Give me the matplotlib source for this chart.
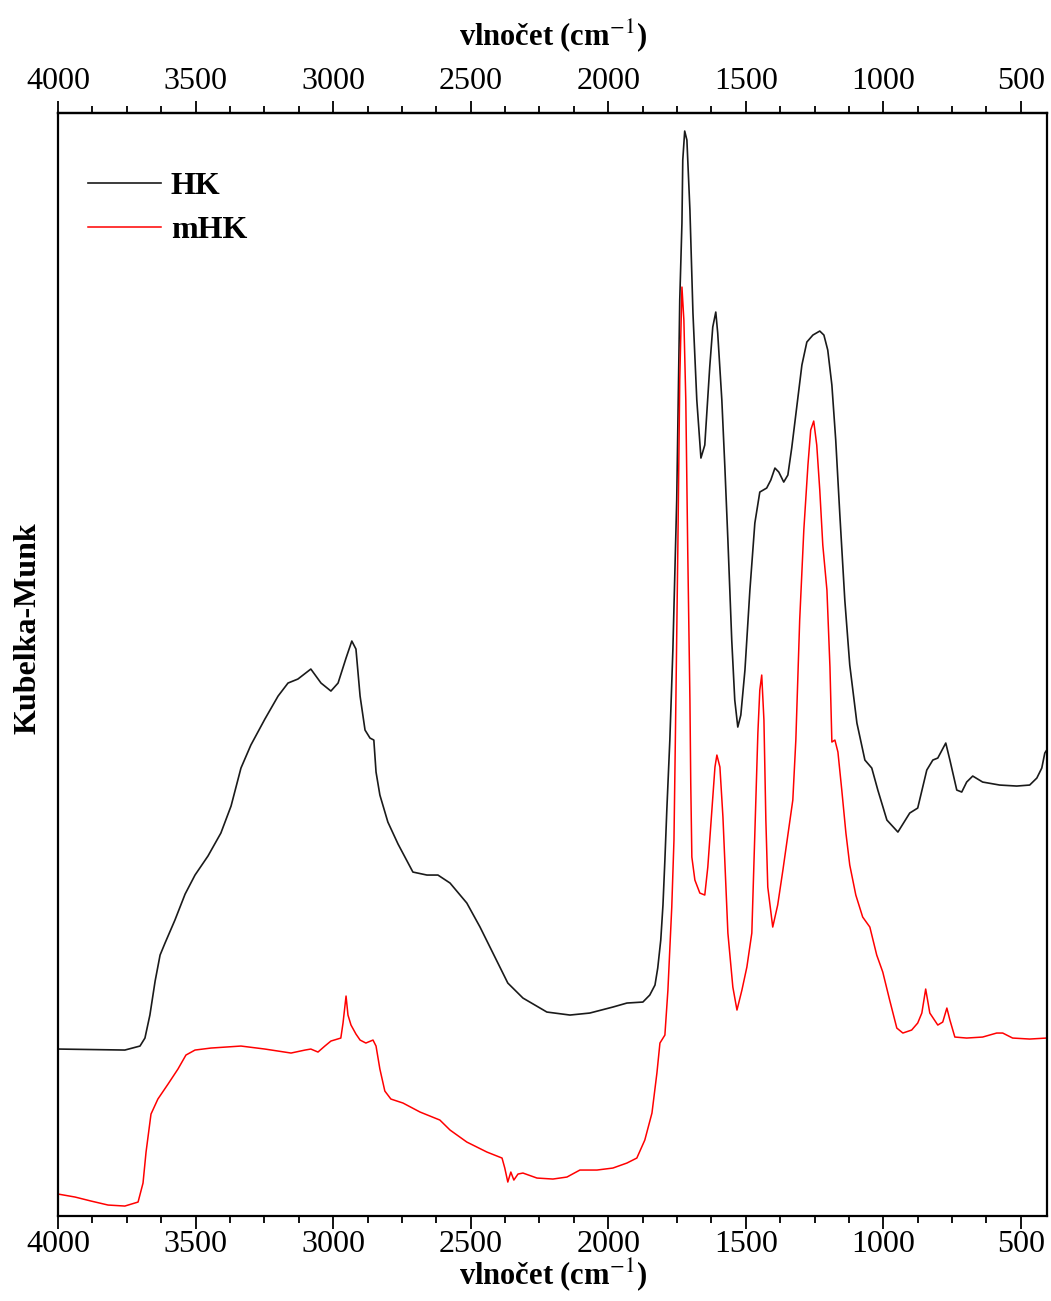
import numpy as np
import matplotlib.pyplot as plt
from matplotlib.ticker import FixedLocator

plt.rcParams['font.family'] = ['Liberation Serif', 'DejaVu Serif']
plt.rcParams['mathtext.fontset'] = 'stix'

# DRIFT spectra, Kubelka-Munk units (arbitrary)
# -------------------------------------------------------------
hk_wn = [4000, 3757, 3702, 3684, 3666, 3647, 3629, 3611, 3575, 3538,
         3502, 3455, 3408, 3371, 3335, 3299, 3248, 3200, 3164, 3128,
         3081, 3044, 3008, 2982, 2953, 2932, 2917, 2902, 2884, 2866,
         2852, 2844, 2830, 2801, 2764, 2710, 2659, 2619, 2575, 2514,
         2466, 2419, 2365, 2310, 2223, 2139, 2067, 1983, 1932, 1874,
         1849, 1830, 1820, 1809, 1801, 1794, 1787, 1776, 1765, 1751,
         1740, 1732, 1729, 1722, 1714, 1703, 1692, 1678, 1663, 1649,
         1631, 1620, 1609, 1602, 1587, 1576, 1565, 1551, 1540, 1529,
         1518, 1503, 1485, 1467, 1449, 1424, 1409, 1394, 1380, 1362,
         1347, 1333, 1314, 1296, 1278, 1256, 1231, 1216, 1202, 1187,
         1173, 1158, 1140, 1122, 1096, 1067, 1042, 1020, 987, 947,
         904, 875, 842, 820, 802, 773, 758, 733, 715, 697,
         675, 639, 577, 515, 468, 442, 424, 413, 406]
hk_km = [0.167, 0.166, 0.170, 0.178, 0.201, 0.235, 0.261, 0.273, 0.296, 0.322,
         0.341, 0.360, 0.383, 0.410, 0.448, 0.471, 0.497, 0.520, 0.533, 0.537,
         0.547, 0.533, 0.525, 0.533, 0.558, 0.575, 0.567, 0.520, 0.486, 0.478,
         0.476, 0.444, 0.421, 0.394, 0.372, 0.344, 0.341, 0.341, 0.333, 0.313,
         0.289, 0.263, 0.233, 0.218, 0.204, 0.201, 0.203, 0.209, 0.213, 0.214,
         0.221, 0.231, 0.248, 0.276, 0.311, 0.356, 0.406, 0.476, 0.566, 0.716,
         0.916, 0.993, 1.056, 1.085, 1.076, 1.006, 0.903, 0.816, 0.758, 0.771,
         0.849, 0.889, 0.904, 0.883, 0.816, 0.749, 0.676, 0.576, 0.516, 0.489,
         0.501, 0.546, 0.626, 0.693, 0.724, 0.728, 0.736, 0.748, 0.744, 0.734,
         0.741, 0.768, 0.811, 0.851, 0.874, 0.881, 0.885, 0.881, 0.866, 0.831,
         0.776, 0.701, 0.616, 0.551, 0.493, 0.456, 0.448, 0.426, 0.396, 0.384,
         0.403, 0.408, 0.446, 0.456, 0.458, 0.473, 0.456, 0.426, 0.424, 0.434,
         0.440, 0.434, 0.431, 0.430, 0.431, 0.438, 0.448, 0.463, 0.466]

mhk_wn = [4000, 3938, 3880, 3818, 3757, 3709, 3691, 3680, 3662, 3637,
          3600, 3564, 3535, 3502, 3444, 3335, 3248, 3153, 3102, 3081,
          3055, 3030, 3008, 2972, 2964, 2953, 2946, 2935, 2917, 2902,
          2881, 2855, 2844, 2830, 2812, 2790, 2746, 2684, 2612, 2575,
          2514, 2441, 2386, 2376, 2365, 2354, 2343, 2328, 2310, 2259,
          2201, 2150, 2103, 2041, 1983, 1932, 1896, 1867, 1841, 1823,
          1812, 1794, 1783, 1769, 1761, 1754, 1747, 1740, 1732, 1725,
          1718, 1711, 1703, 1700, 1696, 1685, 1667, 1649, 1638, 1623,
          1612, 1605, 1594, 1583, 1565, 1547, 1532, 1514, 1496, 1478,
          1467, 1456, 1449, 1442, 1434, 1427, 1420, 1402, 1384, 1365,
          1347, 1329, 1318, 1304, 1289, 1274, 1264, 1253, 1242, 1231,
          1220, 1205, 1194, 1187, 1176, 1165, 1151, 1136, 1122, 1100,
          1075, 1049, 1024, 1002, 977, 951, 929, 897, 875, 860,
          846, 831, 802, 784, 769, 758, 740, 697, 639, 588,
          566, 530, 468, 406]
mhk_km = [0.022, 0.019, 0.015, 0.011, 0.010, 0.014, 0.033, 0.064, 0.102, 0.117,
          0.132, 0.147, 0.161, 0.166, 0.168, 0.170, 0.167, 0.163, 0.166, 0.167,
          0.164, 0.170, 0.175, 0.178, 0.193, 0.220, 0.201, 0.191, 0.182, 0.176,
          0.173, 0.176, 0.170, 0.147, 0.125, 0.117, 0.113, 0.104, 0.096, 0.086,
          0.074, 0.064, 0.058, 0.048, 0.034, 0.044, 0.036, 0.042, 0.043, 0.038,
          0.037, 0.039, 0.046, 0.046, 0.048, 0.053, 0.058, 0.076, 0.103, 0.143,
          0.173, 0.181, 0.226, 0.309, 0.376, 0.516, 0.666, 0.836, 0.929, 0.896,
          0.816, 0.666, 0.516, 0.433, 0.359, 0.336, 0.323, 0.321, 0.349, 0.406,
          0.449, 0.461, 0.449, 0.399, 0.283, 0.229, 0.206, 0.226, 0.249, 0.283,
          0.383, 0.483, 0.526, 0.541, 0.496, 0.396, 0.329, 0.289, 0.311, 0.346,
          0.381, 0.416, 0.476, 0.596, 0.686, 0.751, 0.786, 0.795, 0.771, 0.726,
          0.671, 0.626, 0.549, 0.474, 0.476, 0.464, 0.426, 0.383, 0.351, 0.321,
          0.299, 0.289, 0.261, 0.244, 0.216, 0.188, 0.183, 0.186, 0.193, 0.203,
          0.227, 0.203, 0.191, 0.194, 0.208, 0.196, 0.179, 0.178, 0.179, 0.183,
          0.183, 0.178, 0.177, 0.178]

major_ticks = [4000, 3500, 3000, 2500, 2000, 1500, 1000, 500]
minor_ticks = [3875, 3750, 3625, 3375, 3250, 3125, 2875, 2750, 2625,
               2375, 2250, 2125, 1875, 1750, 1625, 1375, 1250, 1125,
               875, 750, 625]
# -------------------------------------------------------------

fig = plt.figure(figsize=(10.51, 13.01), dpi=100)
ax = fig.add_axes([0.0552, 0.0653, 0.9410, 0.8478])

ax.plot(hk_wn, hk_km, color='#1a1a1a', lw=1.2, label='HK')
ax.plot(mhk_wn, mhk_km, color='red', lw=1.1, label='mHK')

ax.set_xlim(4000, 405)
ax.set_ylim(0, 1.103)

lbl = r'vlnočet (cm$^{-1}$)'
ax.set_xlabel(lbl, fontsize=22, fontweight='bold', labelpad=-2)
ax.set_ylabel('Kubelka-Munk', fontsize=23, fontweight='bold')
ax.yaxis.set_label_coords(-0.016, 0.533)

ax.xaxis.set_major_locator(FixedLocator(major_ticks))
ax.xaxis.set_minor_locator(FixedLocator(minor_ticks))
ax.set_yticks([])
ax.tick_params(axis='x', which='major', direction='out', length=9, width=1.3,
               labelsize=23, pad=1)
ax.tick_params(axis='x', which='minor', direction='out', length=5, width=1.3)

top = ax.secondary_xaxis('top')
top.xaxis.set_major_locator(FixedLocator(major_ticks))
top.xaxis.set_minor_locator(FixedLocator(minor_ticks))
top.tick_params(axis='x', which='major', direction='out', length=9, width=1.3,
                labelsize=23, pad=3)
top.tick_params(axis='x', which='minor', direction='out', length=5, width=1.3)
top.set_xlabel(lbl, fontsize=22, fontweight='bold', labelpad=16)

for s in ax.spines.values():
    s.set_linewidth(1.6)
top.spines['top'].set_linewidth(1.6)

ax.legend(loc='upper left', bbox_to_anchor=(0.001, 0.973), frameon=False,
          prop={'size': 23, 'weight': 'bold'}, handlelength=2.3,
          handletextpad=0.3, labelspacing=0.47)

plt.savefig('out.png', dpi=100)
